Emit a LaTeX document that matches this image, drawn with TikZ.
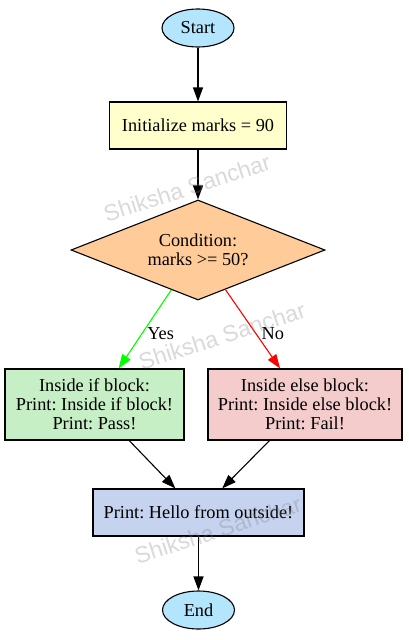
\documentclass[tikz,border=0pt]{standalone}
\usepackage{fontspec}
\setmainfont{Liberation Serif}
\newfontfamily\wmfont{Liberation Sans}
\usetikzlibrary{shapes.geometric,arrows.meta,positioning}
\frenchspacing

\definecolor{termblue}{HTML}{B3E5FC}
\definecolor{initcol}{HTML}{FFFFCC}
\definecolor{condcol}{HTML}{FFCC99}
\definecolor{ifcol}{HTML}{C6EFC6}
\definecolor{elsecol}{HTML}{F4CCCC}
\definecolor{hellocol}{HTML}{C5D3EF}

\begin{document}
\begin{tikzpicture}[
x=1pt,y=1pt,
every node/.style={font=\fontsize{18.3}{19}\selectfont},
termnode/.style={
  draw,
  ellipse,
  fill=termblue,
  line width=1.1pt,
  minimum width=72pt,
  minimum height=38pt,
  inner sep=0pt
  },
boxnode/.style={
  draw,
  rectangle,
  align=center,
  line width=1.1pt,
  inner sep=0pt,
  minimum height=47pt
  },
condnode/.style={
  draw,
  diamond,
  fill=condcol,
  align=center,
  line width=1.1pt,
  shape aspect=2.54,
  minimum width=254pt,
  minimum height=100pt,
  inner sep=0pt
  },
flow/.style={-{Triangle[length=14pt,width=10pt]}, line width=1.1pt},
wmark/.style={
  font=\wmfont\fontsize{23}{23}\selectfont,
  text=gray,
  opacity=0.3,
  rotate=18
  }
]
\useasboundingbox (0,0) rectangle (408,-640);
\node[termnode] (start) at (198,-28) {Start};
\node[boxnode,fill=initcol,minimum width=177pt,below=53.9pt of start] (init) {Initialize marks = 90};
\node[condnode,below=49.9pt of init] (cond) {Condition:\\marks >= 50?};
\node[boxnode,fill=ifcol,minimum width=179pt,minimum height=71pt,below=67.9pt of cond,xshift=-103.5pt] (ifblk)
  {Inside if block:\\Print: Inside if block!\\Print: Pass!};
\node[boxnode,fill=elsecol,minimum width=194pt,minimum height=71pt,below=67.9pt of cond,xshift=107pt] (elseblk)
  {Inside else block:\\Print: Inside else block!\\Print: Fail!};
\node[boxnode,fill=hellocol,minimum width=211pt,below=47.9pt of ifblk,xshift=104pt] (hello) {Print: Hello from outside!};
\node[termnode,below=53.9pt of hello] (end) {End};
\path[flow]
	(start) edge (init)
	(init) edge (cond)
	(cond) edge[green] node[pos=0.56,anchor=west,inner sep=5pt,text=black] {Yes} (ifblk)
	(cond) edge[red] node[pos=0.56,anchor=west,inner sep=5pt,text=black] {No} (elseblk)
	(ifblk) edge (hello)
	(elseblk) edge (hello)
	(hello) edge (end);
% watermark
\node[wmark] (wm1) at (187,-188) {Shiksha Sanchar};
\node[wmark] (wm2) at (222,-336) {Shiksha Sanchar};
\node[wmark] (wm3) at (218,-530) {Shiksha Sanchar};
\end{tikzpicture}
\end{document}
